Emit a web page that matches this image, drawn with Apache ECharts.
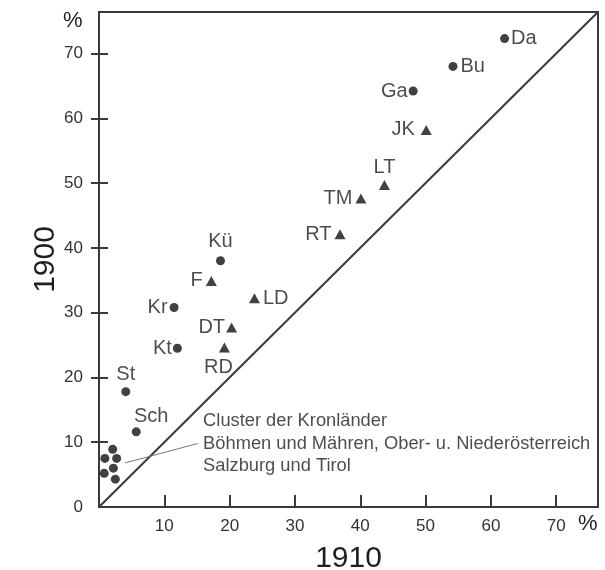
<!DOCTYPE html>
<html>
<head>
<meta charset="utf-8">
<script src="https://cdn.jsdelivr.net/npm/echarts@6/dist/echarts.min.js"></script>
<style>
  html, body { margin: 0; padding: 0; background: #fff; }
  #chart { width: 605px; height: 570px; }
</style>
</head>
<body>
<div id="chart"></div>
<script>
// Kronländer, 1910 share (x) vs 1900 share (y), in %
const circleNames = ["Da", "Bu", "Ga", "Kü", "Kr", "Kt", "St", "Sch"];
const circleX = [62.1, 54.2, 48.1, 18.6, 11.5, 12.0, 4.1, 5.7];
const circleY = [72.3, 68.0, 64.2, 38.0, 30.8, 24.5, 17.8, 11.6];

const triangleNames = ["JK", "LT", "TM", "RT", "F", "LD", "DT", "RD"];
const triangleX = [50.1, 43.7, 40.1, 36.9, 17.2, 23.8, 20.3, 19.2];
const triangleY = [58.2, 49.7, 47.6, 42.1, 34.9, 32.2, 27.7, 24.6];

// unlabelled cluster near the origin
const clusterX = [2.1, 0.9, 2.7, 2.2, 0.8, 2.5];
const clusterY = [8.9, 7.5, 7.5, 6.0, 5.2, 4.3];

const leaderX = [4.0, 15.1];
const leaderY = [6.8, 9.8];
const clusterNote = [
  "Cluster der Kronländer",
  "Böhmen und Mähren, Ober- u. Niederösterreich",
  "Salzburg und Tirol",
];

const axisMax = 76.4;
const xTicks = [10, 20, 30, 40, 50, 60, 70];
const yTicks = [10, 20, 30, 40, 50, 60, 70];
const yLabels = [0, 10, 20, 30, 40, 50, 60, 70];

// where each name sits relative to its marker
const labelPlace = {
  Da: "right", Bu: "right", Ga: "left", "Kü": "top", Kr: "left", Kt: "left",
  St: "top", Sch: "top", JK: "left", LT: "top", TM: "left", RT: "left",
  F: "left", LD: "right", DT: "left", RD: "bottom",
};
const labelOffset = { Sch: [15, 2], RD: [-6, 0] };
const labelDist = { JK: 6, "Kü": 5, RD: 5, Da: 2, Ga: 1, Kt: 1, DT: 1, Kr: 2 };

const FONT = "Liberation Sans, Arial, Helvetica, sans-serif";
const INK = "#1e1e1e";
const LINE = "#3a3a3a";

const pointLabel = (name) => ({
  show: true,
  formatter: name,
  position: labelPlace[name],
  offset: labelOffset[name] || [0, 0],
  distance: labelDist[name] != null ? labelDist[name] : 3,
  fontSize: 20,
  fontFamily: FONT,
  color: INK,
});

const named = (names, xs, ys) =>
  names.map((n, i) => ({ value: [xs[i], ys[i]], label: pointLabel(n) }));

const chart = echarts.init(document.getElementById("chart"), null, { renderer: "canvas" });

const baseAxis = {
  type: "value",
  min: 0,
  max: axisMax,
  splitLine: { show: false },
  axisLine: { show: true, onZero: false, lineStyle: { color: LINE, width: 2 } },
};

const option = {
  backgroundColor: "#fff",
  animation: false,
  grid: {
    left: 99, right: 7, top: 12, bottom: 63,
    outerBoundsMode: "none",
    containLabel: false,
    show: true, borderColor: LINE, borderWidth: 2,
  },
  xAxis: {
    ...baseAxis,
    name: "1910",
    nameLocation: "middle",
    nameGap: 37,
    nameMoveOverlap: false,
    nameTextStyle: { fontSize: 30, fontFamily: FONT, color: INK },
    axisTick: { show: true, inside: true, length: 12, customValues: xTicks, lineStyle: { color: LINE, width: 2 } },
    axisLabel: { customValues: xTicks, margin: 11, fontSize: 17, fontFamily: FONT, color: "#333" },
  },
  yAxis: [
    {
      ...baseAxis,
      name: "1900",
      nameLocation: "middle",
      nameGap: 38,
      nameMoveOverlap: false,
      nameRotate: 90,
      nameTextStyle: { fontSize: 30, fontFamily: FONT, color: INK },
      axisTick: { show: true, inside: false, length: 8, customValues: yTicks, lineStyle: { color: LINE, width: 2 } },
      axisLabel: { customValues: yLabels, margin: 16, fontSize: 17, fontFamily: FONT, color: "#333" },
    },
    {
      ...baseAxis,
      position: "left",
      axisTick: { show: true, inside: true, length: 9, customValues: yTicks, lineStyle: { color: LINE, width: 2 } },
      axisLabel: { show: false },
    },
  ],
  graphic: [
    {
      type: "text", left: 63, top: 10,
      style: { text: "%", fontSize: 22, fontFamily: FONT, fill: INK },
    },
    {
      type: "text", left: 578, top: 513,
      style: { text: "%", fontSize: 22, fontFamily: FONT, fill: INK },
    },
  ],
  series: [
    {
      // 1900 = 1910 reference line
      type: "line",
      data: [[0, 0], [axisMax, axisMax]],
      symbol: "none",
      lineStyle: { color: LINE, width: 2 },
      silent: true,
      z: 1,
    },
    {
      // leader from the cluster to its note
      type: "line",
      data: [[leaderX[0], leaderY[0]], [leaderX[1], leaderY[1]]],
      symbol: "none",
      lineStyle: { color: "#777", width: 1 },
      silent: true,
      z: 1,
    },
    {
      type: "scatter",
      symbolSize: 1,
      itemStyle: { color: "rgba(0,0,0,0)" },
      silent: true,
      data: [[leaderX[1], leaderY[1]]],
      label: {
        show: true,
        position: "right",
        distance: 5,
        offset: [0, 4],
        align: "left",
        formatter: clusterNote.join("\n"),
        fontSize: 18.3,
        lineHeight: 22.5,
        fontFamily: FONT,
        color: INK,
      },
      labelLayout: { hideOverlap: false },
      z: 2,
    },
    {
      type: "scatter",
      symbol: "circle",
      symbolSize: 9,
      itemStyle: { color: "#111" },
      data: named(circleNames, circleX, circleY).concat(
        clusterX.map((x, i) => [x, clusterY[i]])
      ),
      z: 3,
    },
    {
      type: "scatter",
      symbol: "triangle",
      symbolSize: [11, 10],
      itemStyle: { color: "#111" },
      data: named(triangleNames, triangleX, triangleY),
      z: 3,
    },
  ],
};

chart.setOption(option);
</script>
</body>
</html>
